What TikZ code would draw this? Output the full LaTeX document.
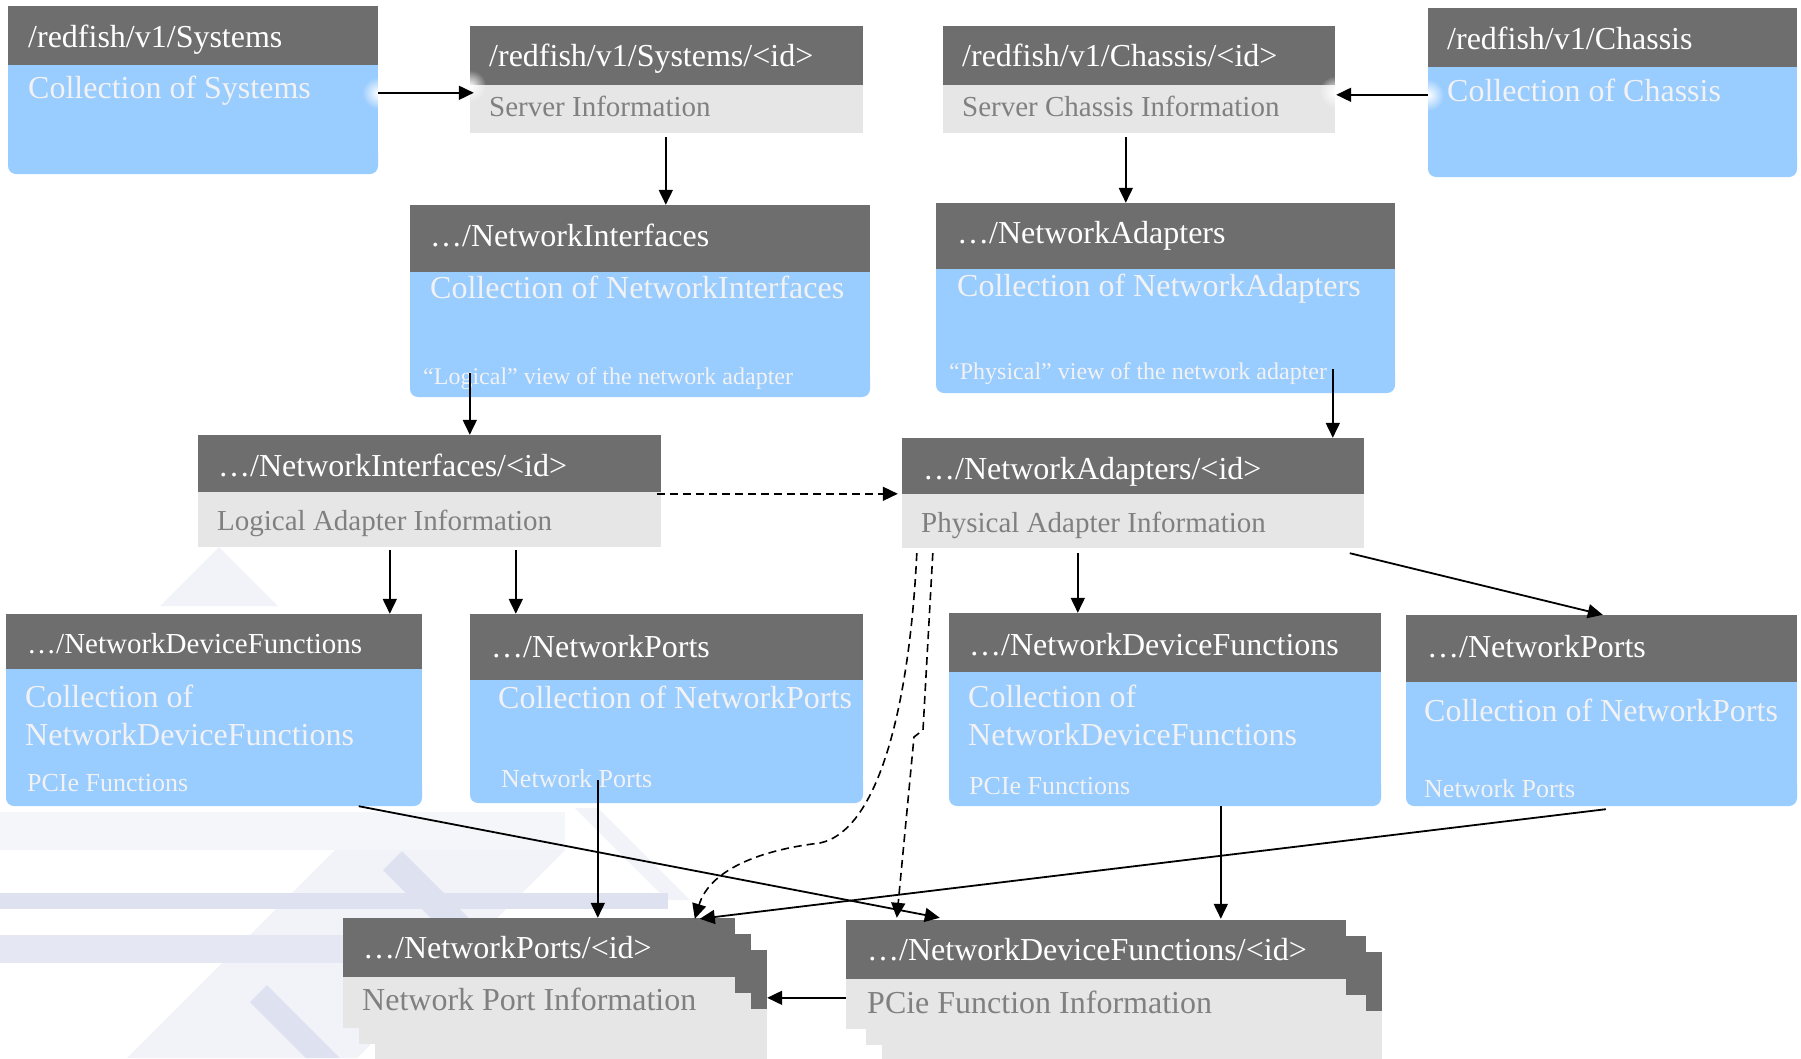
\documentclass[tikz,border=0pt]{standalone}
\usepackage{fontspec}
\setmainfont{Liberation Serif}
\usetikzlibrary{arrows.meta,calc,fit,fadings}
\definecolor{hdrc}{RGB}{110,110,110}
\definecolor{bluc}{RGB}{153,204,255}
\definecolor{lgtc}{RGB}{230,230,230}
\definecolor{bodyc}{RGB}{242,242,242}
\definecolor{infoc}{RGB}{128,128,128}
\definecolor{wmL}{RGB}{242,243,248}
\definecolor{wmX}{RGB}{245,246,250}
\definecolor{wmM}{RGB}{229,232,242}
\definecolor{wmD}{RGB}{222,226,240}
\tikzfading[name=glowfade, inner color=transparent!0, outer color=transparent!100]
\newcommand{\rfBlue}[6]{%
  \fill[hdrc] (#2,#3) rectangle (#4,#5);
  \fill[bluc] (#2,#5) rectangle (#4,#6-12);
  \fill[bluc, rounded corners=8pt] (#2,#6-30) rectangle (#4,#6);
  \node[fit={(#2,#3)(#4,#6)}, inner sep=0pt] (#1) {};}
\newcommand{\rfPlate}[5]{%
  \fill[hdrc] (#1,#2) rectangle (#3,#4);
  \fill[lgtc] (#1,#4) rectangle (#3,#5);}
\newcommand{\rfLight}[6]{%
  \rfPlate{#2}{#3}{#4}{#5}{#6}
  \node[fit={(#2,#3)(#4,#6)}, inner sep=0pt] (#1) {};}
\begin{document}
\begin{tikzpicture}[x=1pt,y=-1pt,
  hdrtxt/.style={anchor=base west, inner sep=0pt, text=white, font=\fontsize{32}{38}\selectfont},
  bodytxt/.style={anchor=base west, inner sep=0pt, text=bodyc, font=\fontsize{32}{38}\selectfont},
  infotxt/.style={anchor=base west, inner sep=0pt, text=infoc, font=\fontsize{29}{35}\selectfont},
  biginfo/.style={infotxt, font=\fontsize{32}{38}\selectfont},
  smalltxt/.style={anchor=base west, inner sep=0pt, text=bodyc, font=\fontsize{26}{31}\selectfont},
  arr/.style={line width=1.8pt, -{Triangle[length=15pt,width=14pt]}},
  darr/.style={arr, line width=1.6pt, dash pattern=on 8pt off 5pt},
  glow/.style={white, path fading=glowfade}]
\useasboundingbox (0,0) rectangle (1801,1058);
\fill[white] (0,0) rectangle (1801,1058);
% watermark
\fill[wmL] (219,547) -- (278,606) -- (160,606) -- cycle;
\fill[wmD] (163,812) -- (190,812) -- (176,829) -- cycle;
\fill[wmX] (0,812) rectangle (565,850);
\fill[wmL] (335,850) -- (565,850) -- (357,1058) -- (127,1058) -- cycle;
\fill[wmL] (575,808) -- (598,808) -- (690,900) -- (667,900) -- cycle;
\fill[wmD] (0,893) rectangle (668,909);
\fill[wmM] (0,935) rectangle (343,963);
\fill[wmD] (383,870) -- (402,851) -- (520,969) -- (501,988) -- cycle;
\fill[wmD] (250,1002) -- (267,985) -- (340,1058) -- (306,1058) -- cycle;
% boxes
\rfBlue{sys}{8}{6}{378}{65}{174}
\node[hdrtxt] (sys-h) at (28,47) {/redfish/v1/Systems};
\node[bodytxt] (sys-b) at (28,98) {Collection of Systems};
\rfLight{sysid}{470}{26}{863}{85}{133}
\node[hdrtxt] (sysid-h) at (489,66) {/redfish/v1/Systems/<id>};
\node[infotxt] (sysid-i) at (489,116) {Server Information};
\rfLight{chid}{943}{26}{1335}{85}{133}
\node[hdrtxt] (chid-h) at (962,66) {/redfish/v1/Chassis/<id>};
\node[infotxt] (chid-i) at (962,116) {Server Chassis Information};
\rfBlue{chs}{1428}{8}{1797}{67}{177}
\node[hdrtxt] (chs-h) at (1447,49) {/redfish/v1/Chassis};
\node[bodytxt] (chs-b) at (1447,101) {Collection of Chassis};
\rfBlue{ni}{410}{205}{870}{272}{397}
\node[hdrtxt] (ni-h) at (430,246) {…/NetworkInterfaces};
\node[bodytxt] (ni-b) at (430,298) {Collection of NetworkInterfaces};
\node[smalltxt, font=\fontsize{24}{29}\selectfont] (ni-s) at (423,384) {“Logical” view of the network adapter};
\rfBlue{na}{936}{203}{1395}{269}{393}
\node[hdrtxt] (na-h) at (957,243) {…/NetworkAdapters};
\node[bodytxt] (na-b) at (957,296) {Collection of NetworkAdapters};
\node[smalltxt, font=\fontsize{24}{29}\selectfont] (na-s) at (949,379) {“Physical” view of the network adapter};
\rfLight{niid}{198}{435}{661}{492}{547}
\node[hdrtxt] (niid-h) at (218,476) {…/NetworkInterfaces/<id>};
\node[infotxt] (niid-i) at (217,530) {Logical Adapter Information};
\rfLight{naid}{902}{438}{1364}{494}{548}
\node[hdrtxt] (naid-h) at (923,479) {…/NetworkAdapters/<id>};
\node[infotxt] (naid-i) at (921,532) {Physical Adapter Information};
\rfBlue{ndfl}{6}{614}{422}{669}{806}
\node[hdrtxt, font=\fontsize{29}{35}\selectfont] (ndfl-h) at (27,653) {…/NetworkDeviceFunctions};
\node[bodytxt] (ndfl-b1) at (25,707) {Collection of};
\node[bodytxt] (ndfl-b2) at (25,745) {NetworkDeviceFunctions};
\node[smalltxt] (ndfl-s) at (27,791) {PCIe Functions};
\rfBlue{npl}{470}{614}{863}{680}{803}
\node[hdrtxt] (npl-h) at (491,657) {…/NetworkPorts};
\node[bodytxt] (npl-b) at (498,708) {Collection of NetworkPorts};
\node[smalltxt] (npl-s) at (501,787) {Network Ports};
\rfBlue{ndfr}{949}{613}{1381}{672}{806}
\node[hdrtxt] (ndfr-h) at (969,655) {…/NetworkDeviceFunctions};
\node[bodytxt] (ndfr-b1) at (968,707) {Collection of};
\node[bodytxt] (ndfr-b2) at (968,745) {NetworkDeviceFunctions};
\node[smalltxt] (ndfr-s) at (969,794) {PCIe Functions};
\rfBlue{npr}{1406}{615}{1797}{682}{806}
\node[hdrtxt] (npr-h) at (1427,657) {…/NetworkPorts};
\node[bodytxt] (npr-b) at (1424,721) {Collection of NetworkPorts};
\node[smalltxt] (npr-s) at (1424,797) {Network Ports};
% stacked boxes
\rfPlate{375}{950}{767}{1009}{1062}
\rfPlate{359}{934}{751}{993}{1044}
\rfLight{npid}{343}{918}{735}{977}{1028}
\node[hdrtxt] (npid-h) at (363,958) {…/NetworkPorts/<id>};
\node[biginfo] (npid-i) at (362,1010) {Network Port Information};
\rfPlate{882}{952}{1382}{1011}{1062}
\rfPlate{866}{936}{1366}{995}{1045}
\rfLight{ndfid}{846}{920}{1346}{979}{1029}
\node[hdrtxt] (ndfid-h) at (867,960) {…/NetworkDeviceFunctions/<id>};
\node[biginfo] (ndfid-i) at (867,1013) {PCie Function Information};
% glows
\fill[glow] (378,93) circle[radius=16pt];
\fill[glow] (470,86) circle[radius=16pt];
\fill[glow] (1335,92) circle[radius=16pt];
\fill[glow] (1428,95) circle[radius=16pt];
% connectors
\draw[arr] ($(sys.north east)+(0,87)$) -- ($(sysid.north west)+(4,67)$);
\draw[arr] ($(chs.north west)+(0,87)$) -- ($(chid.north east)+(1,69)$);
\draw[arr] ($(sysid.south west)+(196,4)$) -- ($(ni.north west)+(256,0)$);
\draw[arr] ($(chid.south west)+(183,4)$) -- ($(na.north west)+(190,0)$);
\draw[arr] ($(ni.south west)+(60,-24)$) -- ($(niid.north west)+(272,0)$);
\draw[arr] ($(na.south west)+(397,-24)$) -- ($(naid.north west)+(431,0)$);
\draw[arr] ($(niid.south west)+(192,3)$) -- ($(ndfl.north west)+(384,0)$);
\draw[arr] ($(niid.south west)+(318,3)$) -- ($(npl.north west)+(46,0)$);
\draw[arr] ($(naid.south west)+(176,5)$) -- ($(ndfr.north west)+(129,0)$);
\draw[arr] ($(naid.south west)+(448,5)$) -- ($(npr.north west)+(197,0)$);
\draw[arr] ($(ndfl.south west)+(353,0)$) -- ($(ndfid.north west)+(94,-2)$);
\draw[arr] ($(npl.south west)+(128,-23)$) -- ($(npid.north west)+(255,0)$);
\draw[arr] ($(ndfr.south west)+(272,0)$) -- ($(ndfid.north west)+(375,-1)$);
\draw[arr] ($(npr.south west)+(200,3)$) -- ($(npid.north west)+(357,1)$);
\draw[arr] ($(ndfid.north west)+(0,78)$) -- ($(npid.north east)+(32,80)$);
\draw[darr] ($(niid.north east)+(-4,59)$) -- ($(naid.north west)+(-4,56)$);
\coordinate (bendA) at (820,843);
\draw[darr] ($(naid.south west)+(15,5)$) .. controls +(-7,147) and +(60,-13) .. (bendA)
  .. controls +(-60,7) and +(15,-49) .. ($(npid.north west)+(352,1)$);
\coordinate (kinkA) at (923,730);
\coordinate (kinkB) at (914,737);
\draw[darr] ($(naid.south west)+(31,5)$) -- (kinkA) -- (kinkB) -- ($(ndfid.north west)+(51,-2)$);
\end{tikzpicture}
\end{document}
